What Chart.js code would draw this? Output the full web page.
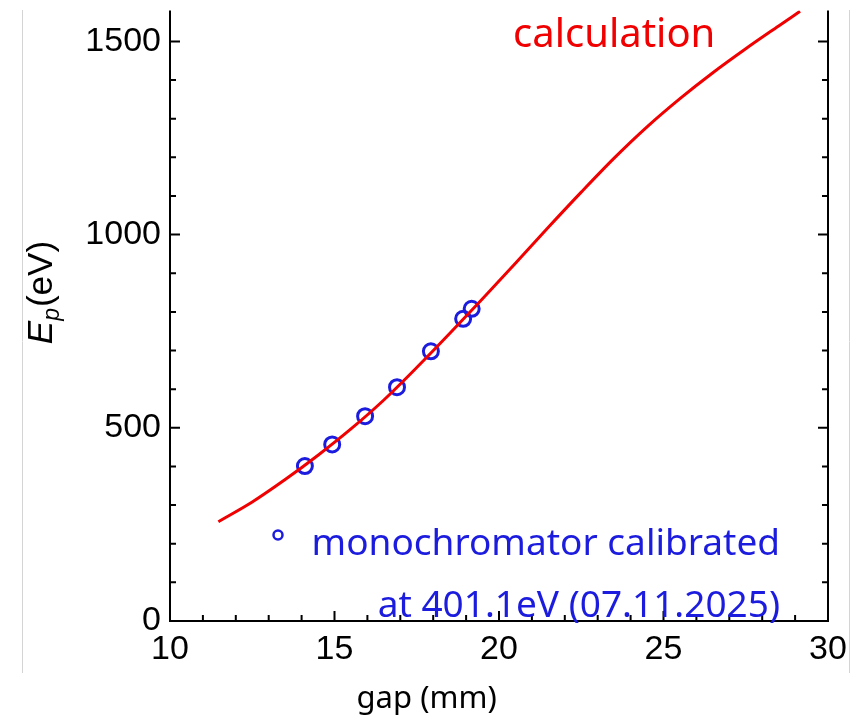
<!DOCTYPE html>
<html>
<head>
<meta charset="utf-8">
<script src="https://cdn.jsdelivr.net/npm/chart.js@4/dist/chart.umd.min.js"></script>
<style>
  html, body { margin: 0; padding: 0; background: #fff; }
  #wrap { width: 853px; height: 716px; position: relative; }
</style>
</head>
<body>
<div id="wrap"><canvas id="c" width="853" height="716"></canvas></div>
<script>
// ---- data ----
const calcGap = [11.47, 12.5, 13.5, 14.5, 15.5, 16.5, 17.5, 18.5, 19.5, 20.5, 21.5, 22.5, 23.5, 24.5, 25.5, 26.5, 27.5, 28.5, 29.15];
const calcEp  = [257, 308, 366, 429, 497, 572, 656, 744, 834, 926, 1019, 1110, 1198, 1279, 1352, 1419, 1481, 1540, 1578];
const measGap = [14.10, 14.93, 15.93, 16.90, 17.93, 18.91, 19.17];
const measEp  = [401, 457, 530, 605, 698, 782, 808];
const xMajorTicks = [10, 15, 20, 25, 30];
const yMajorTicks = [0, 500, 1000, 1500];
const calcLabel = 'calculation';
const measLabel = ['monochromator calibrated', 'at 401.1eV (07.11.2025)'];
const xTitle = 'gap (mm)';

const RED = 'rgb(240,0,0)';
const BLUE = 'rgb(28,28,222)';

const decor = {
  id: 'decor',
  afterDraw(chart) {
    const ctx = chart.ctx;
    const xs = chart.scales.x, ys = chart.scales.y;
    const a = chart.chartArea;
    ctx.save();
    // faint frame lines of the original picture
    ctx.strokeStyle = '#d4d4d4';
    ctx.lineWidth = 1;
    ctx.beginPath();
    ctx.moveTo(22.5, 10); ctx.lineTo(22.5, 673);
    ctx.moveTo(849.5, 10); ctx.lineTo(849.5, 673);
    ctx.stroke();

    // axes
    ctx.strokeStyle = '#000';
    ctx.lineWidth = 2;
    ctx.beginPath();
    ctx.moveTo(a.left, a.top); ctx.lineTo(a.left, a.bottom);
    ctx.lineTo(a.right, a.bottom); ctx.lineTo(a.right, a.top);
    ctx.stroke();

    // inward ticks
    ctx.beginPath();
    for (let v = 0; v <= ys.max; v += 100) {
      const y = ys.getPixelForValue(v);
      const len = yMajorTicks.includes(v) ? 10 : 6;
      ctx.moveTo(a.left, y); ctx.lineTo(a.left + len, y);
      ctx.moveTo(a.right, y); ctx.lineTo(a.right - len, y);
    }
    for (let v = xs.min; v <= xs.max; v += 1) {
      const x = xs.getPixelForValue(v);
      const len = xMajorTicks.includes(v) ? 10 : 6;
      ctx.moveTo(x, a.bottom); ctx.lineTo(x, a.bottom - len);
    }
    ctx.stroke();

    // x title
    ctx.fillStyle = '#000';
    ctx.font = '31px "Noto Sans"';
    ctx.textAlign = 'center';
    ctx.textBaseline = 'alphabetic';
    ctx.fillText(xTitle, xs.getPixelForValue(17.8), 708);

    // y title: E_p(eV)
    ctx.save();
    ctx.translate(52, ys.getPixelForValue(850));
    ctx.rotate(-Math.PI / 2);
    ctx.textAlign = 'left';
    ctx.textBaseline = 'alphabetic';
    const fE = 'italic 35px "Liberation Sans"';
    const fp = 'italic 23px "Liberation Sans"';
    const fr = '35px "Liberation Sans"';
    ctx.font = fE; const wE = ctx.measureText('E').width;
    ctx.font = fp; const wp = ctx.measureText('p').width;
    ctx.font = fr; const wr = ctx.measureText('(eV)').width;
    let x0 = -(wE + wp + wr + 1) / 2;
    ctx.font = fE; ctx.fillText('E', x0, 0); x0 += wE;
    ctx.font = fp; ctx.fillText('p', x0, 7); x0 += wp + 1;
    ctx.font = fr; ctx.fillText('(eV)', x0, 0);
    ctx.restore();

    // legend texts
    ctx.font = '40px "Noto Sans"';
    ctx.fillStyle = RED;
    ctx.textAlign = 'left';
    ctx.fillText(calcLabel, 513, 47);
    ctx.font = '37px "Noto Sans"';
    ctx.fillStyle = BLUE;
    ctx.textAlign = 'right';
    ctx.fillText(measLabel[0], 780, 555);
    ctx.fillText(measLabel[1], 780, 617);
    // legend marker
    ctx.strokeStyle = BLUE;
    ctx.lineWidth = 2.5;
    ctx.beginPath();
    ctx.arc(278, 535, 4.5, 0, Math.PI * 2);
    ctx.stroke();
    ctx.restore();
  }
};

new Chart(document.getElementById('c'), {
  type: 'scatter',
  data: {
    datasets: [
      {
        label: calcLabel,
        data: calcGap.map((g, i) => ({ x: g, y: calcEp[i] })),
        showLine: true,
        borderColor: RED,
        borderWidth: 3,
        pointRadius: 0,
        cubicInterpolationMode: 'monotone',
        fill: false
      },
      {
        label: measLabel.join(' '),
        data: measGap.map((g, i) => ({ x: g, y: measEp[i] })),
        showLine: false,
        borderColor: BLUE,
        backgroundColor: 'rgba(0,0,0,0)',
        borderWidth: 3,
        pointRadius: 7.5,
        pointStyle: 'circle'
      }
    ]
  },
  options: {
    responsive: false,
    animation: false,
    devicePixelRatio: 1,
    layout: { padding: { top: 10, right: 25, left: 0, bottom: 0 } },
    plugins: { legend: { display: false }, tooltip: { enabled: false } },
    scales: {
      x: {
        type: 'linear', min: 10, max: 30,
        grid: { display: false },
        border: { display: false },
        ticks: {
          stepSize: 1, autoSkip: false, maxRotation: 0, padding: 0,
          color: '#000', font: { family: 'Liberation Sans', size: 34 },
          callback: v => xMajorTicks.includes(v) ? String(v) : ''
        },
        afterFit: s => { s.height = 95; s.paddingLeft = 0; s.paddingRight = 0; }
      },
      y: {
        type: 'linear', min: 0, max: 1580,
        grid: { display: false },
        border: { display: false },
        afterBuildTicks: s => {
          const t = [];
          for (let v = 0; v <= 1500; v += 100) t.push({ value: v });
          s.ticks = t;
        },
        ticks: {
          autoSkip: false, padding: 1,
          color: '#000', font: { family: 'Liberation Sans', size: 34 },
          callback: v => yMajorTicks.includes(v) ? String(v) : ''
        },
        afterFit: s => { s.width = 170; s.paddingTop = 0; s.paddingBottom = 0; }
      }
    }
  },
  plugins: [decor]
});
</script>
</body>
</html>
